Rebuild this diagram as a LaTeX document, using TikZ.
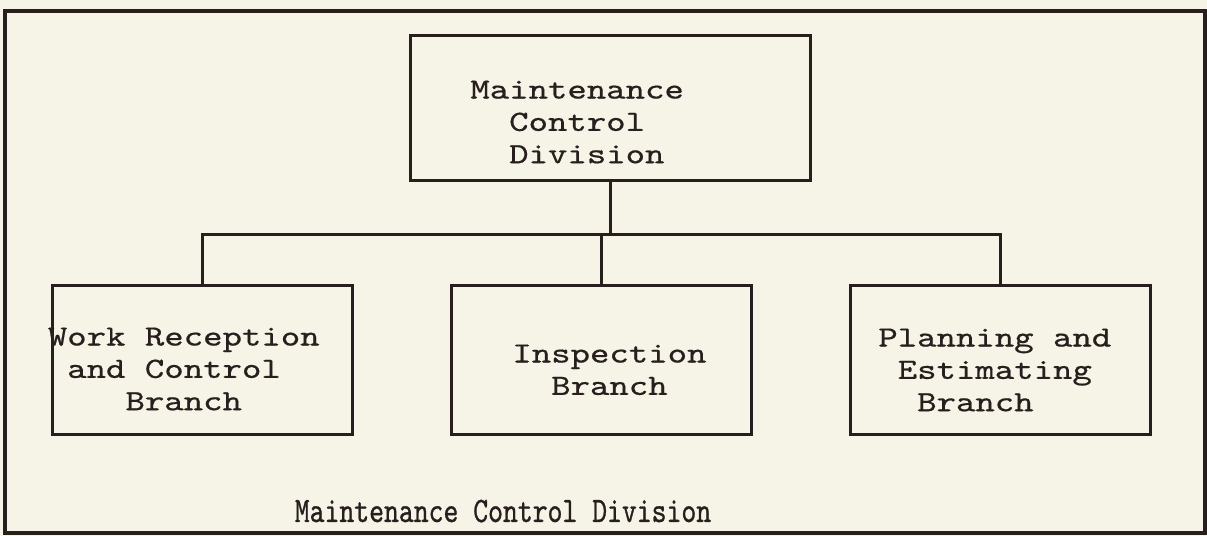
\documentclass[tikz,border=0pt]{standalone}
\usepackage{fontspec}
\newfontfamily\typefont{lmmono10-regular.otf}[FakeStretch=1.26,FakeBold=0.6]
\newfontfamily\capfont{lmmono10-regular.otf}[FakeStretch=0.79,FakeBold=0.8]
\usepackage{tikz}
\usetikzlibrary{positioning,calc}
\definecolor{paper}{RGB}{245,244,231}
\definecolor{ink}{RGB}{40,30,30}

\begin{document}
\begin{tikzpicture}[
  box/.style={rectangle,draw=ink,line width=1.7pt,
              minimum width=6.0cm,minimum height=2.97cm,inner sep=0pt},
  txt/.style={anchor=north west,inner sep=0pt,align=left,text=ink,
              font=\typefont\fontsize{16.7}{18.4}\selectfont},
  conn/.style={draw=ink,line width=1.7pt},
  node distance=1.92cm,
]
\fill[paper] (0,0) rectangle (24.14,10.72);
\useasboundingbox (0,0) rectangle (24.14,10.72);
\draw[ink,line width=2pt] (0.10,0.06) rectangle (24.10,10.50);

% branches
\node[box] (wrc) at (4.05,3.52) {};
\node[box,right=of wrc] (ib) {};
\node[box,right=of ib] (pe) {};
% division
\node[box,minimum width=8.0cm,minimum height=2.9cm,
      above=2.04cm of ib,xshift=0.18cm] (mcd) {};

\node[txt] (mcd-t) at ($(mcd.north west)+(1.22,-0.92)$) {Maintenance\\~~Control\\~~Division};
\node[txt] (wrc-t) at ($(wrc.north west)+(-0.07,-0.86)$) {Work Reception\\~and Control\\~~~~Branch};
\node[txt] (ib-t)  at ($(ib.north west)+(1.24,-1.20)$) {Inspection\\~~Branch};
\node[txt] (pe-t)  at ($(pe.north west)+(0.58,-0.88)$) {Planning and\\~Estimating\\~~Branch};

\coordinate (bus) at ($(mcd.south)+(0,-1.04)$);
\draw[conn] (mcd.south) -- (bus);
\draw[conn] (wrc.north) |- (bus) -| (pe.north);
\draw[conn] (ib.north) |- (bus);

\node[font=\capfont\fontsize{20.4}{20.4}\selectfont,text=ink,anchor=base]
  (cap) at (10.06,0.28) {Maintenance Control Division};
\end{tikzpicture}
\end{document}
